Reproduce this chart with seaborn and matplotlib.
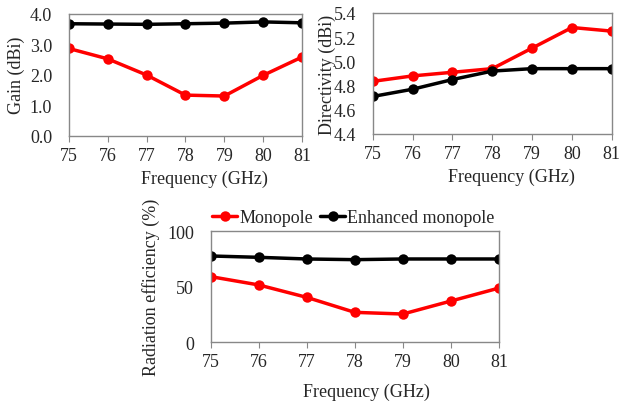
import numpy as np
import pandas as pd
import seaborn as sns
import matplotlib.pyplot as plt

freq = [75, 76, 77, 78, 79, 80, 81]
gain_mono = [2.86, 2.52, 1.99, 1.33, 1.30, 1.98, 2.58]
gain_enh = [3.67, 3.66, 3.65, 3.67, 3.69, 3.73, 3.70]
dir_mono = [4.835, 4.88, 4.91, 4.94, 5.11, 5.28, 5.25]
dir_enh = [4.71, 4.77, 4.85, 4.92, 4.94, 4.94, 4.94]
eff_mono = [59.2, 51.7, 40.5, 27.0, 25.5, 37.2, 48.9]
eff_enh = [77.8, 76.6, 75.1, 74.5, 75.1, 75.1, 75.1]
labels = ["Monopole", "Enhanced monopole"]

sns.set_theme(style="white")
plt.rcParams['font.family'] = ['Liberation Serif', 'DejaVu Serif']
plt.rcParams['font.size'] = 13

fig = plt.figure(figsize=(6.26, 4.02), dpi=100)
ax1 = fig.add_axes([0.1097, 0.660, 0.373, 0.3035])
ax2 = fig.add_axes([0.5954, 0.6642, 0.382, 0.301])
ax3 = fig.add_axes([0.3366, 0.146, 0.4605, 0.276])

def draw(ax, mono, enh, ylim, yticks, fmt, ylabel, ylab_x):
    df = pd.DataFrame({"f": freq * 2, "v": mono + enh,
                       "s": [labels[0]] * 7 + [labels[1]] * 7})
    sns.lineplot(data=df, x="f", y="v", hue="s", palette=["#ff0000", "#000000"],
                 marker="o", markersize=7.5, markeredgewidth=0, linewidth=2.5,
                 ax=ax, legend=False)
    ax.set_xlim(75, 81)
    ax.set_ylim(*ylim)
    ax.set_xticks(freq)
    ax.set_yticks(yticks)
    ax.set_yticklabels([fmt.format(t) for t in yticks], fontsize=13)
    ax.set_xticklabels([str(f) for f in freq], fontsize=13)
    ax.tick_params(axis="x", bottom=True, length=4, width=0.8, color="#888888", pad=4)
    ax.tick_params(axis="y", left=False, pad=6)
    for s in ax.spines.values():
        s.set_color("#888888")
        s.set_linewidth(1.0)
    ax.set_xlabel("Frequency (GHz)", fontsize=13)
    ax.xaxis.set_label_coords(0.58, -0.28)
    ax.set_ylabel(ylabel, fontsize=13)
    ax.yaxis.set_label_coords(ylab_x, 0.5)

draw(ax1, gain_mono, gain_enh, (0, 4), [0, 1, 2, 3, 4], "{:.1f}", "Gain (dBi)", -0.185)
draw(ax2, dir_mono, dir_enh, (4.4, 5.4), [4.4, 4.6, 4.8, 5.0, 5.2, 5.4], "{:.1f}",
     "Directivity (dBi)", -0.155)
draw(ax3, eff_mono, eff_enh, (0, 100), [0, 50, 100], "{:.0f}",
     "Radiation efficiency (%)", -0.175)
ax3.xaxis.set_label_coords(0.54, -0.36)

h = [plt.Line2D([], [], color=c, marker="o", markersize=7.5, markeredgewidth=0, linewidth=2.5)
     for c in ["#ff0000", "#000000"]]
ax3.legend(h, labels, loc="lower center", bbox_to_anchor=(0.495, 0.98), ncol=2,
           frameon=False, fontsize=13, handlelength=1.4, handletextpad=0.1,
           columnspacing=0.4, borderaxespad=0)

fig.savefig("out.png", dpi=100)
